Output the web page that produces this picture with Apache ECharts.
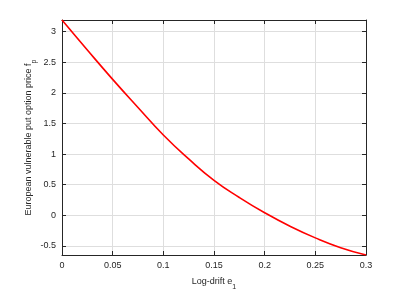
<!DOCTYPE html>
<html><head><meta charset="utf-8">
<script src="https://cdn.jsdelivr.net/npm/echarts@6/dist/echarts.min.js"></script>
<style>html,body{margin:0;padding:0;background:#fff}#c{width:399px;height:296px}</style>
</head><body><div id="c"></div>
<script>
const driftX = [0, 0.025, 0.05, 0.075, 0.1, 0.125, 0.15, 0.175, 0.2, 0.225, 0.25, 0.275, 0.3];
const putPrice = [3.19, 2.70, 2.22, 1.76, 1.31, 0.92, 0.57, 0.29, 0.04, -0.18, -0.37, -0.53, -0.65];
const yTicks = [-0.5, 0, 0.5, 1, 1.5, 2, 2.5, 3];
const xTicks = [0, 0.05, 0.1, 0.15, 0.2, 0.25, 0.3];

const chart = echarts.init(document.getElementById('c'), null, {renderer: 'canvas'});
const txt = '#262626';
const font = 'Liberation Sans, Arial, sans-serif';
const axisLine = {show: true, onZero: false, lineStyle: {color: txt, width: 1}};
const grid = {left: 62, right: 33, top: 20, bottom: 38};
const richName = {
  a: {fontSize: 9, fontFamily: font, color: txt, verticalAlign: 'top', lineHeight: 14},
  s: {fontSize: 7, fontFamily: font, color: txt, verticalAlign: 'bottom', lineHeight: 14, padding: [5, 0, 0, 0]}
};
chart.setOption({
  animation: false,
  grid: grid,
  xAxis: [{
    type: 'value', min: 0, max: 0.3, interval: 0.05,
    axisLine: axisLine,
    axisTick: {show: true, inside: true, length: 4, customValues: xTicks, lineStyle: {color: txt}},
    axisLabel: {color: txt, fontSize: 9, fontFamily: font, margin: 6, customValues: xTicks,
      formatter: v => String(Math.round(v * 100) / 100)},
    splitLine: {show: true, lineStyle: {color: '#dedede', width: 1}},
    name: '{a|Log-drift e}{s|1}', nameLocation: 'middle', nameGap: 22, nameMoveOverlap: false,
    nameTextStyle: {color: txt, fontSize: 9, fontFamily: font, rich: richName}
  }, {
    type: 'value', position: 'top', min: 0, max: 0.3, interval: 0.05,
    axisLine: axisLine,
    axisTick: {show: true, inside: true, length: 4, customValues: xTicks, lineStyle: {color: txt}},
    axisLabel: {show: false}, splitLine: {show: false}
  }],
  yAxis: [{
    type: 'value', min: -0.65, max: 3.19,
    axisLine: axisLine,
    axisTick: {show: true, inside: true, length: 4, customValues: yTicks, lineStyle: {color: txt}},
    axisLabel: {color: txt, fontSize: 9, fontFamily: font, margin: 6, customValues: yTicks,
      formatter: v => String(v)},
    splitLine: {show: true, lineStyle: {color: '#dedede', width: 1}},
    name: '{a|European vulnerable put option price f}{s|p}', nameLocation: 'middle', nameGap: 24, nameMoveOverlap: false,
    nameTextStyle: {color: txt, fontSize: 9, fontFamily: font, rich: richName}
  }, {
    type: 'value', position: 'right', min: -0.65, max: 3.19,
    axisLine: axisLine,
    axisTick: {show: true, inside: true, length: 4, customValues: yTicks, lineStyle: {color: txt}},
    axisLabel: {show: false}, splitLine: {show: false}
  }],
  series: [{
    type: 'line', smooth: true, showSymbol: false,
    data: driftX.map((x, i) => [x, putPrice[i]]),
    lineStyle: {color: '#ff0000', width: 1.6}, itemStyle: {color: '#ff0000'}
  }]
});
</script></body></html>
